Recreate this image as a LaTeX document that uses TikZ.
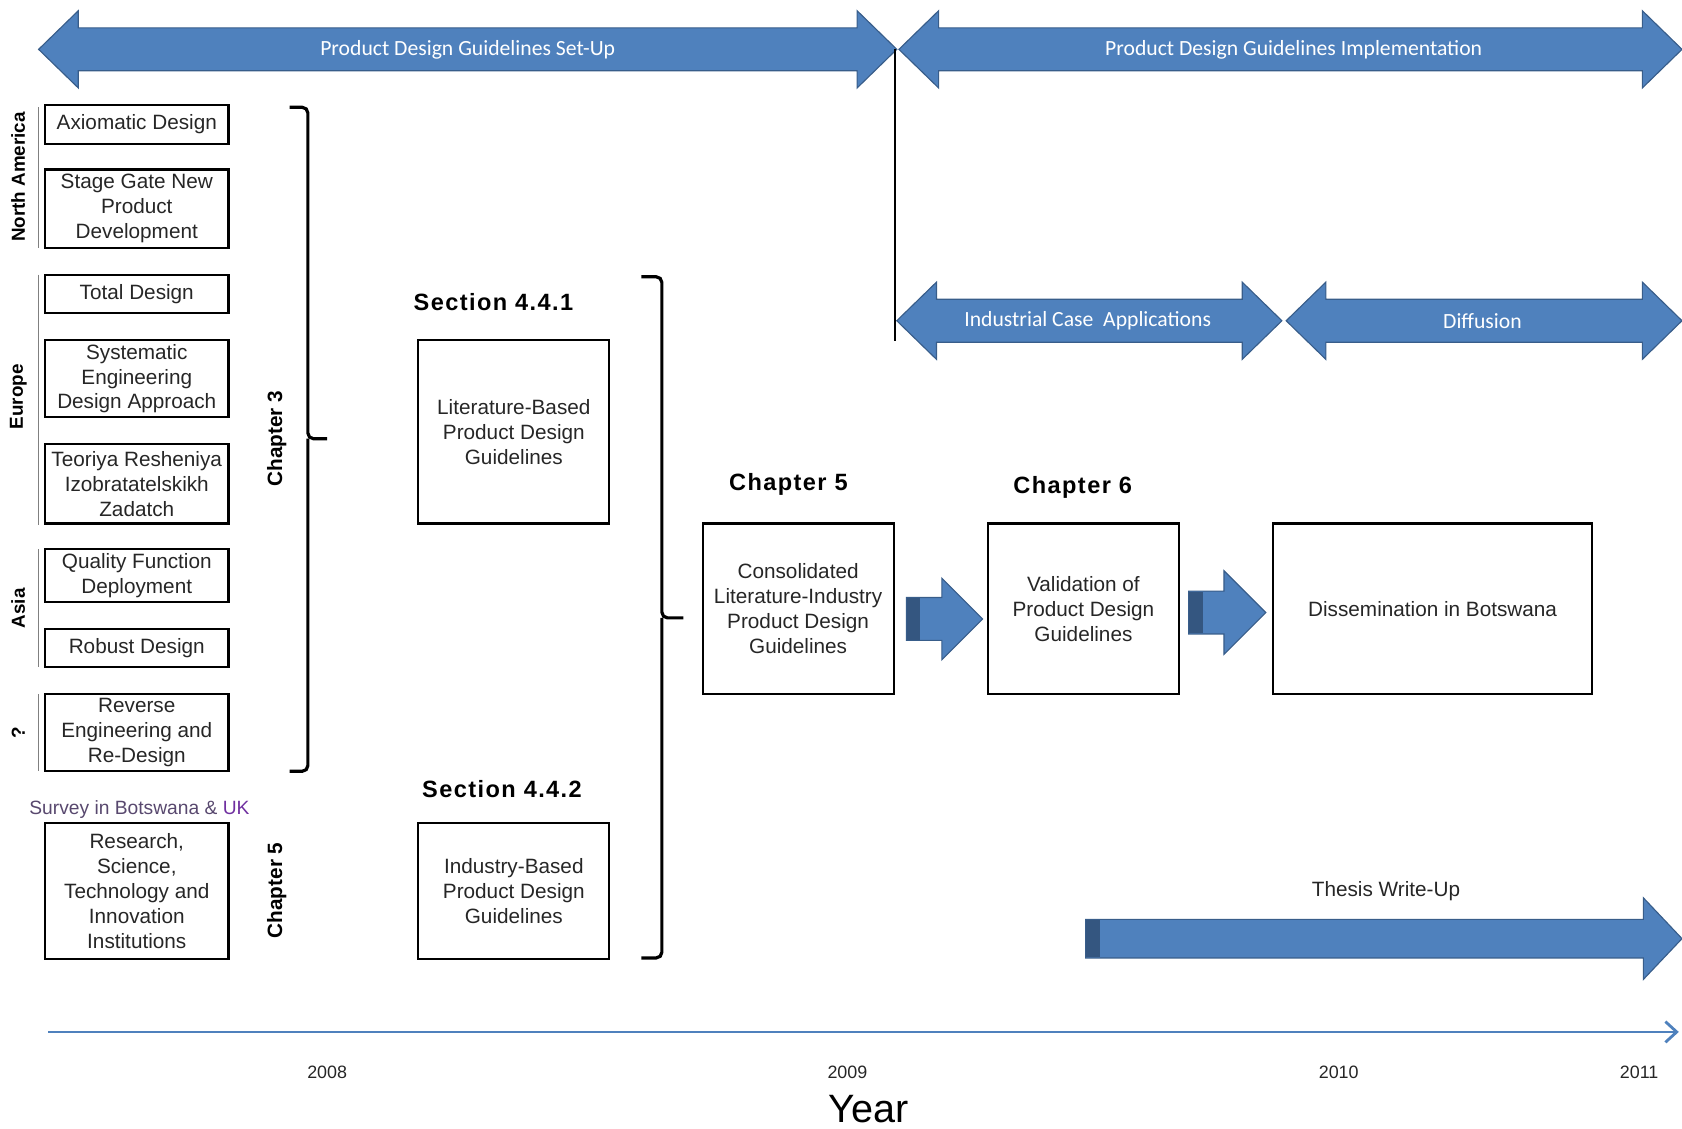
\documentclass[tikz,border=0pt]{standalone}
\usepackage{fontspec}
\setmainfont{Liberation Sans}
\newfontfamily\carl{Carlito}
\newfontfamily\headfont[LetterSpace=6]{Liberation Sans}
\usetikzlibrary{arrows.meta}
\definecolor{arrblue}{RGB}{79,129,189}
\definecolor{arredge}{RGB}{56,93,138}
\definecolor{arrdark}{RGB}{52,86,128}
\definecolor{survcol}{RGB}{88,72,110}
\definecolor{ukcol}{RGB}{112,48,160}
\tikzset{
  box/.style={draw=black, line width=1.1pt, align=center, text=black!85,
    font=\fontsize{11}{13.2}\selectfont, inner sep=1pt},
  lbox/.style={box, minimum width=3.42cm},
  blk/.style={fill=arrblue, draw=arredge, line width=0.6pt},
  albl/.style={text=white, font=\carl\fontsize{11.5}{13}\selectfont},
  head/.style={font=\headfont\bfseries\fontsize{12.5}{14}\selectfont},
  side/.style={rotate=90, font=\bfseries\fontsize{10}{12}\selectfont},
  brace/.style={line width=1.7pt, rounded corners=3pt},
  region/.style={draw=gray, line width=0.8pt}
}
\begin{document}
\begin{tikzpicture}[x=0.02cm, y=-0.02cm]
\useasboundingbox (0,0) rectangle (1568,1052);

% phase arrows
\foreach \xa/\xb/\yc in {36/836/46, 838/1568/46, 836/1195/299, 1199/1568/299}
  \filldraw[blk] (\xa,\yc) -- (\xa+37,\yc-36) -- (\xa+37,\yc-20) -- (\xb-37,\yc-20)
    -- (\xb-37,\yc-36) -- (\xb,\yc) -- (\xb-37,\yc+36) -- (\xb-37,\yc+20)
    -- (\xa+37,\yc+20) -- (\xa+37,\yc+36) -- cycle;
\node[albl] (setup) at (436,46) {Product Design Guidelines Set-Up};
\node[albl] (impl) at (1206,46) {Product Design Guidelines Implementation};
\node[albl] (ica) at (1014,299) {Industrial Case\ \ Applications};
\node[albl] (diff) at (1382,299) {Diffusion};

\coordinate (split) at (834,46);
\coordinate (splitend) at (834,318);
\draw[line width=1.2pt] (split) -- (splitend);

% block arrows
\foreach \xa/\xh/\xb/\yc/\sh/\hd in {845/878/916/577/20/38, 1108/1141/1180/571/20/39, 1012/1532/1568/875/18/38}
  {
  \filldraw[blk] (\xa,\yc-\sh) -- (\xh,\yc-\sh) -- (\xh,\yc-\hd) -- (\xb,\yc)
    -- (\xh,\yc+\hd) -- (\xh,\yc+\sh) -- (\xa,\yc+\sh) -- cycle;
  \fill[arrdark] (\xa+0.5,\yc-\sh+0.5) rectangle (\xa+13,\yc+\sh-0.5);
  }
\node[font=\fontsize{11}{13}\selectfont, text=black!85] (thesis) at (1292,831) {Thesis Write-Up};

% regions
\foreach \ya/\yb in {100/231, 256/489, 512/622, 647/719}
  \draw[region] (36,\ya) -- (36,\yb);
\node[side] (na) at (17,165) {North America};
\node[side] (eu) at (17,370) {Europe};
\node[side] (as) at (17,567) {Asia};
\node[side] (unk) at (17,683) {?};

% methods
\node[lbox, minimum height=0.72cm] (axd) at (127.5,116) {Axiomatic Design};
\node[lbox, minimum height=1.46cm] (sgd) at (127.5,194.5) {Stage Gate New\\Product\\Development};
\node[lbox, minimum height=0.72cm] (totd) at (127.5,274) {Total Design};
\node[lbox, minimum height=1.44cm] (sed) at (127.5,353) {Systematic\\Engineering\\Design Approach};
\node[lbox, minimum height=1.48cm] (triz) at (127.5,451) {Teoriya Resheniya\\Izobratatelskikh\\Zadatch};
\node[lbox, minimum height=0.98cm] (qfd) at (127.5,536.5) {Quality Function\\Deployment};
\node[lbox, minimum height=0.72cm] (robd) at (127.5,604) {Robust Design};
\node[lbox, minimum height=1.44cm] (rev) at (127.5,683) {Reverse\\Engineering and\\Re-Design};
\node[font=\fontsize{10.2}{12}\selectfont, text=survcol] (survey) at (130,755) {Survey in Botswana \& \textcolor{ukcol}{UK}};
\node[lbox, minimum height=2.54cm] (rsti) at (127.5,830.5) {Research,\\Science,\\Technology and\\Innovation\\Institutions};

\node[side, font=\bfseries\fontsize{11}{13}\selectfont] (chthree) at (258,409) {Chapter 3};
\node[side, font=\bfseries\fontsize{11}{13}\selectfont] (chfive) at (258,830) {Chapter 5};
\draw[brace] (270,100) -| (287,409) -- (305,409);
\draw[brace] (287,409) |- (270,719);

% guidelines
\node[head] (secone) at (460,282) {Section 4.4.1};
\node[box, minimum width=3.56cm, minimum height=3.42cm] (lit) at (479,402.5) {Literature-Based\\Product Design\\Guidelines};
\node[head] (sectwo) at (468,736) {Section 4.4.2};
\node[box, minimum width=3.56cm, minimum height=2.54cm] (ind) at (479,830.5) {Industry-Based\\Product Design\\Guidelines};
\draw[brace] (598,258) -| (617,576) -- (637,576);
\draw[brace] (617,576) |- (598,893);

\node[head] (chapfive) at (735,452) {Chapter 5};
\node[box, minimum width=3.56cm, minimum height=3.18cm] (cons) at (744,567.5) {Consolidated\\Literature-Industry\\Product Design\\Guidelines};
\node[head] (chapsix) at (1000,454) {Chapter 6};
\node[box, minimum width=3.56cm, minimum height=3.18cm] (val) at (1010,567.5) {Validation of\\Product Design\\Guidelines};
\node[box, minimum width=5.94cm, minimum height=3.18cm] (diss) at (1335.5,567.5) {Dissemination in Botswana};

% time axis
\coordinate (tstart) at (45,962);
\coordinate (tend) at (1565,962);
\draw[arrblue, line width=1.5pt, -{Straight Barb[length=6pt,width=11pt]}] (tstart) -- (tend);
\foreach \yr/\xp in {2008/305, 2009/790, 2010/1248, 2011/1528}
  \node[font=\fontsize{9.5}{11}\selectfont, text=black!85] (y\yr) at (\xp,1000) {\yr};
\node[font=\fontsize{21}{24}\selectfont, inner sep=0pt] (year) at (810,1034) {Year};
\end{tikzpicture}
\end{document}
